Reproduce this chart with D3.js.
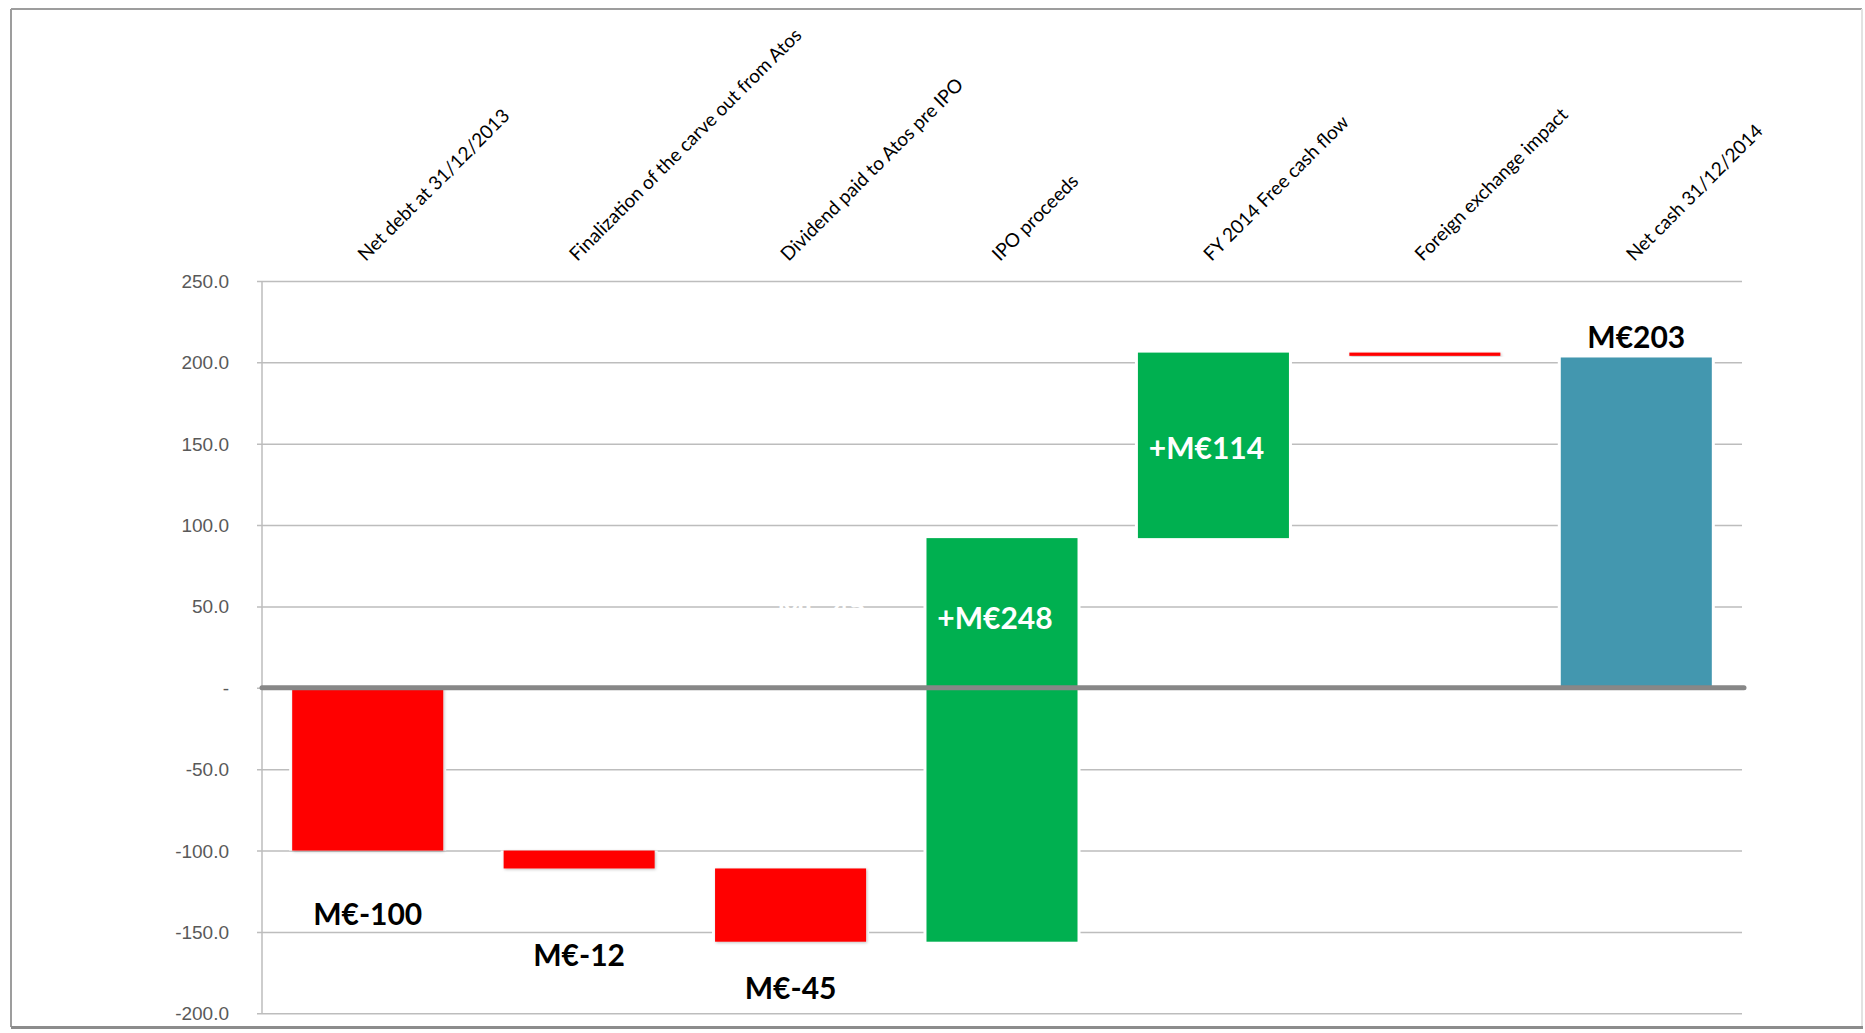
<!DOCTYPE html>
<html>
<head>
<meta charset="utf-8">
<script src="https://cdn.jsdelivr.net/npm/d3@7"></script>
<style>
  html, body { margin: 0; padding: 0; background: #fff; }
  svg { display: block; font-family: Lato, "Open Sans", sans-serif; }
</style>
</head>
<body>
<div id="chart"></div>
<script>
// Waterfall: net debt 2013 -> net cash 2014 (M€)
const categories = [
    "Net debt at 31/12/2013",
    "Finalization of the carve out from Atos",
    "Dividend paid to Atos pre IPO",
    "IPO proceeds",
    "FY 2014 Free cash flow",
    "Foreign exchange impact",
    "Net cash 31/12/2014"
];
const barFrom = [0, -100, -111, -156, 92, 206, 0];
const barTo   = [-100, -111, -156, 92, 206, 204, 203];
const barKind = ["down", "down", "down", "up", "up", "down", "total"];
const valueLabels = ["M€-100", "M€-12", "M€-45", "+M€248", "+M€114", "", "M€203"];
const labelAt = [-138.5, -163.5, -184, 43.5, 148, null, 216.5];
const yTicks = [250, 200, 150, 100, 50, 0, -50, -100, -150, -200];

const width = 1865, height = 1033;
const colors = { down: "#ff0000", up: "#00b050", total: "#4397af" };

const svg = d3.select("#chart")
    .append("svg")
    .attr("width", width)
    .attr("height", height);

const defs = svg.append("defs");
const shadow = defs.append("filter").attr("id", "shadow")
    .attr("x", "-10%").attr("y", "-20%").attr("width", "120%").attr("height", "140%");
shadow.append("feDropShadow")
    .attr("dx", 1).attr("dy", 1).attr("stdDeviation", 1.5)
    .attr("flood-color", "#000").attr("flood-opacity", 0.25);

// outer frame
svg.append("line").attr("x1", 11).attr("x2", 1862).attr("y1", 9).attr("y2", 9)
    .attr("stroke", "#9d9d9d").attr("stroke-width", 2);
svg.append("line").attr("x1", 11).attr("x2", 11).attr("y1", 9).attr("y2", 1027)
    .attr("stroke", "#9d9d9d").attr("stroke-width", 2);
svg.append("line").attr("x1", 1862).attr("x2", 1862).attr("y1", 9).attr("y2", 1027)
    .attr("stroke", "#e2e2e2").attr("stroke-width", 2);
svg.append("line").attr("x1", 11).attr("x2", 1863).attr("y1", 1027.5).attr("y2", 1027.5)
    .attr("stroke", "#8c8c8c").attr("stroke-width", 3);

const x = d3.scaleBand()
    .domain(categories)
    .range([262, 1742])
    .paddingInner(0.2857)
    .paddingOuter(0.1428);

const y = d3.scaleLinear()
    .domain([-200, 250])
    .range([1013.3, 281]);

// gridlines + ticks
const yAxis = d3.axisLeft(y)
    .tickValues(yTicks)
    .tickSize(-(1742 - 262))
    .tickPadding(33)
    .tickFormat(d => d === 0 ? "-" : d.toFixed(1));

const axisG = svg.append("g")
    .attr("transform", "translate(262,0)")
    .call(yAxis);
axisG.select(".domain").remove();
axisG.selectAll(".tick line")
    .attr("x1", -5)
    .attr("stroke", "#bdbdbd")
    .attr("stroke-width", 1.5);
axisG.selectAll(".tick text")
    .attr("fill", "#595959")
    .style("font-size", "19px")
    .attr("dy", "0.34em");

svg.append("line")
    .attr("x1", 262).attr("x2", 262)
    .attr("y1", y(250)).attr("y2", y(-200))
    .attr("stroke", "#bdbdbd").attr("stroke-width", 1.5);

// hidden white label that breaks the 50 gridline
svg.append("text")
    .attr("x", x(categories[2]) + x.bandwidth() / 2 + 31)
    .attr("y", y(50))
    .attr("text-anchor", "middle")
    .attr("dominant-baseline", "central")
    .attr("fill", "#ffffff")
    .style("font-size", "29px")
    .style("font-weight", "bold")
    .text("M€-45");

const data = categories.map((c, i) => ({
    cat: c, from: barFrom[i], to: barTo[i], kind: barKind[i],
    label: valueLabels[i], at: labelAt[i]
}));

// white halo so gridlines stop short of bars
svg.append("g").selectAll("rect")
    .data(data)
    .join("rect")
    .attr("x", d => x(d.cat) - 3)
    .attr("width", x.bandwidth() + 6)
    .attr("y", d => y(Math.max(d.from, d.to)))
    .attr("height", d => Math.abs(y(d.from) - y(d.to)))
    .attr("fill", "#fff");

svg.append("g").selectAll("rect")
    .data(data)
    .join("rect")
    .attr("x", d => x(d.cat))
    .attr("width", x.bandwidth())
    .attr("y", d => y(Math.max(d.from, d.to)))
    .attr("height", d => Math.abs(y(d.from) - y(d.to)))
    .attr("fill", d => colors[d.kind])
    .attr("filter", d => d.kind === "down" ? "url(#shadow)" : null);

// zero line
svg.append("line")
    .attr("x1", 262).attr("x2", 1744)
    .attr("y1", y(0)).attr("y2", y(0))
    .attr("stroke", "#878787")
    .attr("stroke-width", 5)
    .attr("stroke-linecap", "round");

// category labels
svg.append("g").selectAll("text")
    .data(categories)
    .join("text")
    .attr("transform", d => `translate(${x(d) + x.bandwidth() / 2 - 2},262) rotate(-45)`)
    .attr("fill", "#000")
    .style("font-size", "19px")
    .text(d => d);

// value labels (the ones inside green bars sit a little left of centre)
svg.append("g").selectAll("text")
    .data(data.filter(d => d.label))
    .join("text")
    .attr("x", d => x(d.cat) + x.bandwidth() / 2 + (d.kind === "up" ? -7 : 0))
    .attr("y", d => y(d.at))
    .attr("text-anchor", "middle")
    .attr("dominant-baseline", "central")
    .attr("fill", d => d.kind === "up" ? "#ffffff" : "#000000")
    .style("font-size", "30px")
    .style("font-weight", "bold")
    .text(d => d.label);
</script>
</body>
</html>
